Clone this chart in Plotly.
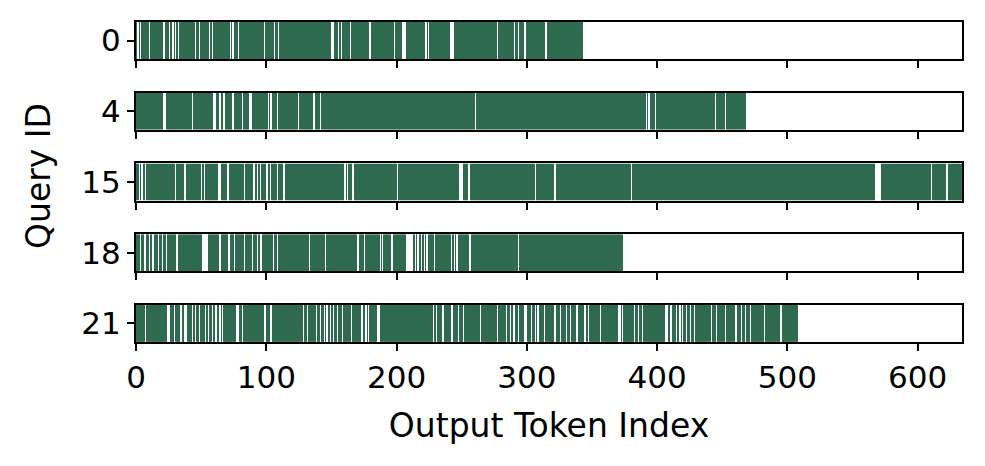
import numpy as np
import plotly.graph_objects as go
from plotly.subplots import make_subplots

# queries shown, top to bottom
query_ids = ["0", "4", "15", "18", "21"]
seq_lengths = [343, 468, 634, 374, 508]

# token indices that are NOT marked (white gaps) per query
gaps_q0 = [1, 3, 10, 21, 25, 28, 30, 32, 45, 48, 56, 58, 72, 74, 78, 98, 106, 109,
           150, 151, 155, 157, 164, 179, 198, 204, 205, 206, 222, 224, 241, 242, 243,
           277, 290, 293, 298, 314]
gaps_q4 = [21, 22, 43, 59, 60, 64, 67, 74, 81, 87, 88, 101, 103, 108, 124, 136, 141,
           260, 391, 393, 398, 444, 452]
gaps_q15 = [2, 4, 7, 30, 37, 50, 52, 63, 64, 70, 83, 90, 93, 95, 100, 103, 108, 113,
            160, 162, 166, 200, 248, 249, 250, 255, 306, 321, 380,
            567, 568, 569, 570, 571, 610, 622]
gaps_q18 = [3, 6, 7, 10, 12, 13, 17, 20, 23, 31, 51, 52, 53, 54, 64, 71, 75, 83, 89,
            93, 95, 96, 105, 108, 133, 145, 170, 175, 187, 189, 196, 207, 208, 209,
            210, 211, 212, 214, 216, 219, 221, 223, 229, 242, 244, 246, 256, 293]
gaps_q21 = [7, 24, 25, 29, 34, 37, 38, 43, 45, 48, 53, 55, 58, 61, 64, 66, 77, 78, 81,
            98, 99, 103, 128, 131, 138, 141, 144, 146, 149, 151, 154, 158, 165, 173,
            176, 178, 185, 186, 228, 230, 235, 242, 247, 251, 264, 277, 284, 287, 289,
            290, 293, 298, 299, 303, 306, 308, 313, 321, 325, 330, 333, 338, 344, 347,
            356, 370, 371, 373, 382, 385, 388, 406, 407, 410, 414, 417, 419, 422, 425,
            428, 441, 445, 452, 460, 464, 467, 471, 482, 494, 495]
all_gaps = [gaps_q0, gaps_q4, gaps_q15, gaps_q18, gaps_q21]

x_ticks = [0, 100, 200, 300, 400, 500, 600]
x_max = 634

green = "#2e6a4f"
font = "DejaVu Sans"

fig = make_subplots(rows=5, cols=1, vertical_spacing=0.105)

for i, (qid, n, gaps) in enumerate(zip(query_ids, seq_lengths, all_gaps)):
    z = np.ones(n)
    z[gaps] = 0
    fig.add_trace(go.Heatmap(
        z=[z], x0=0.5, dx=1, y=[0],
        colorscale=[[0, "white"], [1, green]],
        zmin=0, zmax=1, showscale=False, zsmooth=False,
        hovertemplate="Token %{x}<extra></extra>",
    ), row=i + 1, col=1)
    fig.update_yaxes(range=[-0.5, 0.5], tickvals=[0], ticktext=[qid],
                     row=i + 1, col=1)
    fig.update_xaxes(range=[0, x_max], tickvals=x_ticks,
                     showticklabels=(i == 4), row=i + 1, col=1)

fig.update_xaxes(showline=True, mirror=True, linecolor="black", linewidth=2,
                 ticks="outside", ticklen=7, tickwidth=1.5, tickcolor="black",
                 showgrid=False, zeroline=False,
                 tickfont=dict(family=font, size=31, color="black"))
fig.update_yaxes(showline=True, mirror=True, linecolor="black", linewidth=2,
                 ticks="outside", ticklen=7, tickwidth=1.5, tickcolor="black",
                 showgrid=False, zeroline=False, fixedrange=True,
                 tickfont=dict(family=font, size=31, color="black"))
fig.update_xaxes(title_text="Output Token Index", title_standoff=20,
                 title_font=dict(family=font, size=33, color="black"), row=5, col=1)

fig.add_annotation(text="Query ID", textangle=-90, x=0, y=0.5, xref="paper",
                   yref="paper", xanchor="center", yanchor="middle", xshift=-98,
                   yshift=6, showarrow=False,
                   font=dict(family=font, size=33, color="black"))

# page body adds an 8px offset, margins compensate for it
fig.update_layout(
    width=985, height=466,
    margin=dict(l=128, r=31, t=14, b=132),
    plot_bgcolor="white", paper_bgcolor="white",
    font=dict(family=font, color="black"),
)

fig.write_html("out.html")
